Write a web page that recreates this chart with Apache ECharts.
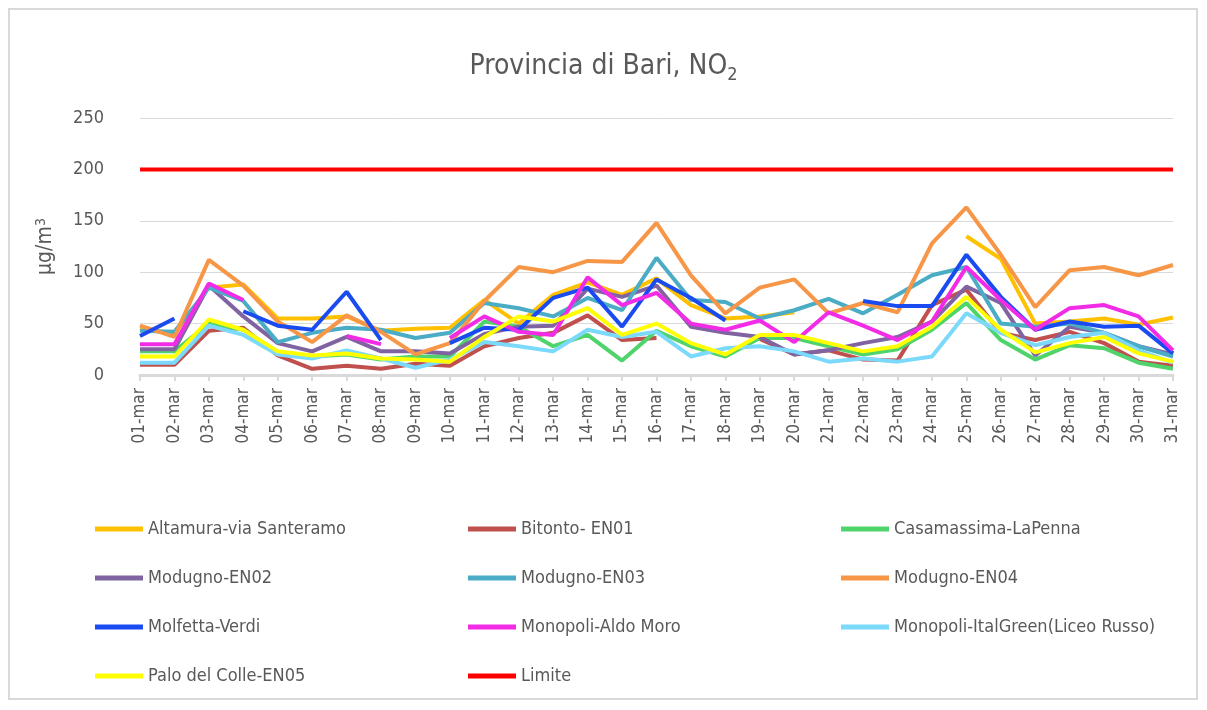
<!DOCTYPE html>
<html>
<head>
<meta charset="utf-8">
<script src="https://cdn.jsdelivr.net/npm/echarts@6/dist/echarts.min.js"></script>
<style>
html, body { margin: 0; padding: 0; background: #fff; }
#chart { width: 1207px; height: 710px; }
</style>
</head>
<body>
<div id="chart"></div>
<script>
var days = [];
for (var d = 1; d <= 31; d++) {
    days.push((d < 10 ? '0' + d : '' + d) + '-mar');
}

var altamura = [45, 40, 85, 88, 55, 55, 57, 43, 45, 46, 73, 50, 78, 90, 78, 94, 68, 55, 57, 61, null, null, null, null, 135, 113, 50, 52, 55, 49, 56];
var bitonto = [10, 10, 43, 46, 19, 6, 9, 6, 11, 9, 28, 36, 41, 58, 34, 36, null, null, 35, 20, 24, 15, 14, 68, 83, 41, 34, 42, 31, 13, 9];
var casamassima = [23, 23, 50, 44, 22, 18, 20, 15, 18, 18, 52, 47, 28, 39, 14, 43, 28, 18, 36, 36, 28, 20, 25, 44, 70, 34, 15, 29, 26, 12, 6];
var modugno2 = [25, 25, 87, 57, 31, 23, 37, 23, 23, 21, 40, 47, 48, 84, 76, 87, 47, 41, 37, 20, 24, 31, 37, 52, 86, 70, 19, 47, 41, 28, 20];
var modugno3 = [43, 42, 85, 72, 32, 41, 46, 44, 36, 41, 70, 65, 57, 75, 63, 114, 73, 71, 55, 63, 74, 60, 78, 97, 105, 50, 47, 50, 41, 28, 18];
var modugno4 = [48, 37, 112, 87, 52, 32, 58, 42, 20, 31, 72, 105, 100, 111, 110, 148, 97, 60, 85, 93, 60, 70, 61, 128, 163, 117, 66, 102, 105, 97, 107];
var molfetta = [38, 55, null, 62, 48, 44, 81, 34, null, 31, 46, 44, 75, 85, 47, 93, 75, 53, null, null, null, 72, 67, 67, 117, 76, 44, 52, 47, 48, 21];
var monopoliAM = [30, 30, 89, 73, null, null, 38, 30, null, 36, 57, 42, 39, 95, 68, 80, 50, 44, 53, 32, 61, 48, 34, 52, 105, 73, 44, 65, 68, 57, 24];
var monopoliIG = [12, 12, 48, 39, 20, 16, 24, 16, 7, 15, 32, 28, 23, 44, 37, 42, 18, 26, 28, 23, 13, 16, 13, 18, 60, 41, 29, 37, 41, 24, 12];
var palo = [18, 18, 54, 44, 23, 19, 21, 16, 15, 13, 37, 57, 52, 65, 39, 50, 31, 20, 39, 39, 31, 23, 28, 47, 76, 44, 22, 31, 37, 21, 13];
var limite = [];
for (var i = 0; i < 31; i++) limite.push(200);

var yTicks = [0, 50, 100, 150, 200, 250];

var names = ['Altamura-via Santeramo', 'Bitonto- EN01', 'Casamassima-LaPenna',
    'Modugno-EN02', 'Modugno-EN03', 'Modugno-EN04',
    'Molfetta-Verdi', 'Monopoli-Aldo Moro', 'Monopoli-ItalGreen(Liceo Russo)',
    'Palo del Colle-EN05', 'Limite'];
var values = [altamura, bitonto, casamassima, modugno2, modugno3, modugno4,
    molfetta, monopoliAM, monopoliIG, palo, limite];
var colors = ['#FFC000', '#C0504D', '#4FD36B', '#8064A2', '#4BACC6', '#F79646',
    '#1A4BF0', '#F22CE6', '#7BD9FB', '#FFFF00', '#FF0000'];

var font = '"Liberation Sans Narrow", "DejaVu Sans Condensed", sans-serif';

var dom = document.getElementById("chart");
var myChart = echarts.init(dom);

function legendCol(left, data) {
    return {
        left: left,
        top: 515,
        orient: 'vertical',
        itemGap: 31,
        itemWidth: 48,
        itemHeight: 5,
        icon: 'rect',
        data: data,
        textStyle: { color: '#595959', fontSize: 18, fontFamily: font }
    };
}

var option = {
    animation: false,
    title: {
        text: 'Provincia di Bari, NO{sub|2}',
        left: 'center',
        top: 45,
        textStyle: {
            color: '#595959',
            fontSize: 28,
            fontWeight: 'normal',
            fontFamily: font,
            rich: {
                sub: { fontSize: 18, color: '#595959', fontFamily: font, padding: [16, 0, 0, 0] }
            }
        }
    },
    legend: [
        legendCol(90, [names[0], names[3], names[6], names[9]]),
        legendCol(463, [names[1], names[4], names[7], names[10]]),
        legendCol(836, [names[2], names[5], names[8]])
    ],
    grid: {
        left: 140,
        right: 34,
        top: 118,
        bottom: 335
    },
    xAxis: {
        type: 'category',
        boundaryGap: false,
        data: days,
        axisLine: { lineStyle: { color: '#D9D9D9', width: 3 } },
        axisTick: { show: true, length: 6, lineStyle: { color: '#D9D9D9', width: 2 } },
        axisLabel: {
            interval: 0,
            rotate: 90,
            color: '#595959',
            fontSize: 17,
            fontFamily: font,
            margin: 13
        }
    },
    yAxis: {
        type: 'value',
        min: yTicks[0],
        max: yTicks[yTicks.length - 1],
        interval: 50,
        name: 'μg/m{sup|3}',
        nameLocation: 'middle',
        nameGap: 82,
        nameRotate: 90,
        nameTextStyle: {
            color: '#595959',
            fontSize: 21,
            fontFamily: font,
            rich: {
                sup: { fontSize: 14, color: '#595959', fontFamily: font, padding: [0, 0, 10, 0] }
            }
        },
        axisLine: { show: false },
        axisTick: { show: false },
        axisLabel: { color: '#595959', fontSize: 18, fontFamily: font, margin: 36 },
        splitLine: { lineStyle: { color: '#D9D9D9', width: 1 } }
    },
    graphic: [{
        type: 'rect',
        shape: { x: 9, y: 9, width: 1188, height: 690 },
        style: { fill: 'none', stroke: '#D9D9D9', lineWidth: 2 },
        silent: true,
        z: -10
    }],
    series: names.map(function (n, k) {
        return {
            name: n,
            type: 'line',
            data: values[k],
            symbol: 'none',
            connectNulls: false,
            color: colors[k],
            lineStyle: { width: 4, color: colors[k] }
        };
    })
};

myChart.setOption(option, true);

window.onresize = function () {
    myChart.resize();
};
</script>
</body>
</html>
